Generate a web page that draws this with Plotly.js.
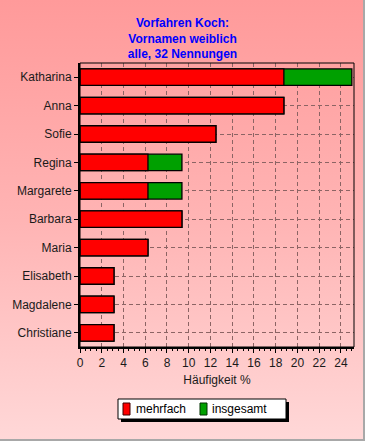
<!DOCTYPE html>
<html>
<head>
<meta charset="utf-8">
<script src="https://cdn.plot.ly/plotly-3.0.1.min.js"></script>
<style>
  html, body { margin: 0; padding: 0; }
  #wrap { position: relative; width: 365px; height: 441px; background: linear-gradient(to bottom, #ff9a9a 0%, #ffb4b4 50%, #ffd8d8 100%); }
  #chart { width: 365px; height: 441px; }
  #frame { position: absolute; left: 0; top: 0; width: 363px; height: 439px; border-right: 2px solid #a8a8a8; border-bottom: 2px solid #a8a8a8; pointer-events: none; }
</style>
</head>
<body>
<div id="wrap"><div id="chart"></div><div id="frame"></div></div>
<script>
const categories = ['Katharina', 'Anna', 'Sofie', 'Regina', 'Margarete', 'Barbara', 'Maria', 'Elisabeth', 'Magdalene', 'Christiane'];
const mehrfach = [18.75, 18.75, 12.5, 6.25, 6.25, 9.375, 6.25, 3.125, 3.125, 3.125];
const insgesamt = [25, 18.75, 12.5, 9.375, 9.375, 9.375, 6.25, 3.125, 3.125, 3.125];
const seriesNames = ['mehrfach', 'insgesamt'];
const seriesColors = ['#ff0000', '#00a000'];
const titleText = 'Vorfahren Koch:<br>Vornamen weiblich<br>alle, 32 Nennungen';
const xTitle = 'Häufigkeit %';

const font = 'Liberation Sans, Arial, sans-serif';

// plot area in pixels (for converting legend box positions to paper coords)
const M = { l: 80, r: 11, t: 63, b: 94 };
const W = 365, H = 441;
const PW = W - M.l - M.r, PH = H - M.t - M.b;
const px = v => (v - M.l) / PW;
const py = v => (H - M.b - v) / PH;

const traces = [
  { type: 'bar', orientation: 'h', name: seriesNames[1], y: categories, x: insgesamt,
    marker: { color: seriesColors[1], line: { color: '#000000', width: 1.3 } }, hoverinfo: 'skip' },
  { type: 'bar', orientation: 'h', name: seriesNames[0], y: categories, x: mehrfach,
    marker: { color: seriesColors[0], line: { color: '#000000', width: 1.3 } }, hoverinfo: 'skip' }
];

// custom legend box: shadow, box, swatches, labels
const shapes = [
  { type: 'rect', xref: 'paper', yref: 'paper', x0: 0, x1: 1, y0: 0, y1: 1,
    line: { color: '#000', width: 1 }, layer: 'above' },
  { type: 'rect', xref: 'paper', yref: 'paper', x0: px(121), x1: px(289), y0: py(402), y1: py(422),
    fillcolor: '#000', line: { width: 0 }, layer: 'above' },
  { type: 'rect', xref: 'paper', yref: 'paper', x0: px(118), x1: px(286), y0: py(399), y1: py(419),
    fillcolor: '#fff', line: { color: '#000', width: 1 }, layer: 'above' },
  { type: 'rect', xref: 'paper', yref: 'paper', x0: px(123), x1: px(130), y0: py(403), y1: py(415),
    fillcolor: seriesColors[0], line: { color: '#400000', width: 1 }, layer: 'above' },
  { type: 'rect', xref: 'paper', yref: 'paper', x0: px(200), x1: px(207), y0: py(403), y1: py(415),
    fillcolor: seriesColors[1], line: { color: '#003000', width: 1 }, layer: 'above' }
];
const annotations = [
  { xref: 'paper', yref: 'paper', x: px(134), y: py(409), xanchor: 'left', yanchor: 'middle',
    text: seriesNames[0], showarrow: false, font: { family: font, size: 12, color: '#000' } },
  { xref: 'paper', yref: 'paper', x: px(210), y: py(409), xanchor: 'left', yanchor: 'middle',
    text: seriesNames[1], showarrow: false, font: { family: font, size: 12, color: '#000' } }
];

const layout = {
  width: W, height: H,
  paper_bgcolor: 'rgba(0,0,0,0)', plot_bgcolor: 'rgba(0,0,0,0)',
  margin: M,
  barmode: 'overlay', bargap: 0.42,
  title: { text: titleText, font: { family: font, size: 12, color: '#0000ff', weight: 'bold' },
           x: 0.5, xanchor: 'center', xref: 'container', y: 1 - 27 / H, yanchor: 'middle', yref: 'container' },
  xaxis: {
    range: [0, 25.2], dtick: 2, tick0: 0,
    showgrid: true, gridcolor: '#8c6464', griddash: '4px,3px', gridwidth: 1,
    zeroline: false, showline: true, linecolor: '#000', linewidth: 2,
    ticks: 'outside', ticklen: 4, tickcolor: '#000', tickwidth: 1,
    minor: { dtick: 0.5, ticks: 'outside', ticklen: 2, tickcolor: '#000', showgrid: false },
    tickfont: { family: font, size: 12, color: '#1a1a1a' },
    title: { text: xTitle, font: { family: font, size: 12, color: '#1a1a1a' }, standoff: 6 },
    fixedrange: true
  },
  yaxis: {
    type: 'category', categoryorder: 'array', categoryarray: categories, autorange: 'reversed',
    showgrid: true, gridcolor: '#8c6464', griddash: '4px,3px', gridwidth: 1,
    showline: true, linecolor: '#000', linewidth: 2,
    ticks: 'outside', ticklen: 4, tickcolor: '#000',
    tickfont: { family: font, size: 12, color: '#1a1a1a' },
    fixedrange: true
  },
  shapes: shapes,
  annotations: annotations,
  showlegend: false
};

Plotly.newPlot('chart', traces, layout, { displayModeBar: false, staticPlot: true });
</script>
</body>
</html>
